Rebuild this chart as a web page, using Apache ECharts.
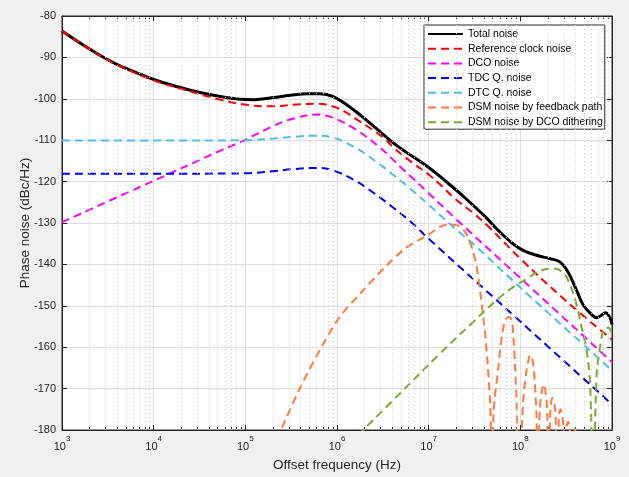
<!DOCTYPE html>
<html><head><meta charset="utf-8">
<script src="https://cdn.jsdelivr.net/npm/echarts@6/dist/echarts.min.js"></script>
<style>html,body{margin:0;padding:0;background:#f0f0f0;}#c{width:629px;height:477px;}</style>
</head><body><div id="c"></div>
<script>
// ---- data (frequency in Hz, phase noise in dBc/Hz) ----
const seriesNames = ['Total noise','Reference clock noise','DCO noise','TDC Q. noise','DTC Q. noise','DSM noise by feedback path','DSM noise by DCO dithering'];

const totalF  = [1e3,1.94e3,2.95e3,4.47e3,1.02e4,2.4e4,5.5e4,8.7e4,1.26e5,2e5,3.3e5,4.7e5,6.5e5,9.1e5,1.5e6,2.5e6,4.5e6,1e7,1.57e7,2.4e7,4.1e7,6e7,8.3e7,1.07e8,1.5e8,2.1e8,2.7e8,3.3e8,4.1e8,4.85e8,6e8,6.8e8,7.5e8,8.5e8,9.5e8,1e9];
const totalDb = [-83.6,-87.8,-90.2,-92.2,-95.4,-97.8,-99.5,-100.1,-100.2,-99.7,-99.1,-98.8,-98.8,-99.5,-102.6,-106.6,-111.3,-116.6,-120.1,-123.6,-128.4,-132.2,-135.0,-136.6,-137.8,-138.6,-139.4,-141.8,-146.2,-149.8,-152.1,-152.9,-152.4,-151.7,-152.9,-154.5];

const refF  = [1e3,1.94e3,2.95e3,4.47e3,1.02e4,2.4e4,5.5e4,1.07e5,2e5,4e5,6e5,1e6,1.62e6,3.16e6,4.29e6,7.08e6,1e7,1.38e7,1.93e7,3.19e7,4.46e7,1e8,3e8,1e9];
const refDb = [-83.6,-87.8,-90.2,-92.3,-95.6,-98.1,-100.3,-101.5,-101.8,-101.3,-101.2,-102.2,-104.9,-109.3,-112.1,-115.9,-118.3,-121.0,-124.1,-127.9,-130.8,-138.6,-148.4,-158.2];

const dcoF  = [1e3,1e4,5.5e4,1e5,2e5,3.3e5,6e5,9.1e5,1.62e6,2.95e6,5e6,1e7,2e7,1e8,1e9];
const dcoDb = [-129.8,-119.8,-112.4,-109.9,-106.6,-104.8,-103.8,-104.6,-107.5,-111.8,-116.6,-122.8,-129.1,-143.3,-163.6];

const tdcF  = [1e3,1e4,1e5,2e5,3.3e5,6e5,9.1e5,1.62e6,2.5e6,4.29e6,7.08e6,1e7,1e8,1e9];
const tdcDb = [-118.1,-118.1,-118.0,-117.5,-117.0,-116.7,-117.3,-119.9,-122.7,-126.6,-130.6,-133.8,-153.8,-173.8];

const dtcF  = [1e3,1e4,1e5,2e5,3.3e5,6e5,9.1e5,1.62e6,2.95e6,4.29e6,5.7e6,1e7,1.93e7,3.19e7,1e8,1e9];
const dtcDb = [-110.1,-110.1,-110.0,-109.6,-109.2,-108.9,-109.4,-111.9,-115.9,-118.7,-120.9,-125.6,-131.3,-135.4,-145.6,-165.6];

const dsmFbF  = [2.2e5,3.94e5,6.8e5,1.07e6,1.85e6,3.47e6,5.74e6,9.5e6,1.57e7,2.08e7,2.55e7,2.96e7,3.36e7,3.71e7,4.1e7,4.43e7,4.71e7,4.95e7,
  5.08e7,5.77e7,6.27e7,6.82e7,7.4e7,8.05e7,8.4e7,8.76e7,9.1e7,9.5e7,
  1.07e8,1.17e8,1.25e8,1.29e8,1.38e8,1.44e8,1.5e8,1.53e8,
  1.63e8,1.72e8,1.81e8,1.9e8,1.97e8,2.02e8,
  2.12e8,2.23e8,2.35e8,2.44e8,2.5e8,
  2.63e8,2.73e8,2.87e8,2.98e8,3.05e8,
  3.21e8,3.33e8,3.47e8,3.55e8,
  3.73e8,3.87e8,4.03e8,4.13e8];
const dsmFbDb = [-182.3,-169.9,-159.9,-152.7,-146.7,-140.3,-135.9,-133.1,-130.4,-130.6,-132.5,-136,-141,-148,-156,-165,-175,-200,
  -176.6,-164.7,-157.5,-153.5,-152.7,-153.5,-157.5,-164.7,-173.5,-200,
  -173.5,-165.5,-162.3,-161.9,-163.9,-168.7,-176.6,-200,
  -175,-170.5,-169,-171.5,-176,-200,
  -176,-172.3,-173.5,-178,-200,
  -177,-175,-176.5,-181,-200,
  -179,-178,-180,-200,
  -180.5,-179.5,-181,-200];

const dsmDcoF  = [1.7e6,4.85e6,1.32e7,3.06e7,5.73e7,8.35e7,1.17e8,1.63e8,2.28e8,2.93e8,3.47e8,4.13e8,4.69e8,5.31e8,5.8e8,6.26e8,6.75e8,7.4e8,8.3e8,9.2e8,1e9];
const dsmDcoDb = [-181.2,-171.2,-161.6,-153.9,-148.3,-145.5,-143.5,-141.6,-141.0,-142.0,-144.8,-150,-155.5,-161,-170,-200,-168,-160,-155.5,-155.3,-157];

const xTickExponents = [3,4,5,6,7,8,9];
const yTicks = [-180,-170,-160,-150,-140,-130,-120,-110,-100,-90,-80];

// ---- chart ----
const FONT = '"Liberation Sans", Arial, Helvetica, sans-serif';
const AX = '#262626';
const zip = (f, d) => f.map((v, i) => [v, d[i]]);
const minorVals = [];
xTickExponents.slice(0, -1).forEach(e => { for (let k = 2; k <= 9; k++) minorVals.push(k * Math.pow(10, e)); });

const xBase = { type: 'log', logBase: 10, min: Math.pow(10, xTickExponents[0]), max: Math.pow(10, xTickExponents[xTickExponents.length-1]), gridIndex: 0 };
const chart = echarts.init(document.getElementById('c'), null, { renderer: 'canvas' });

const lineSeries = (name, f, d, color, width, type, smooth) => ({
  name, type: 'line', xAxisIndex: 0, yAxisIndex: 0, data: zip(f, d),
  showSymbol: false, symbol: 'none', clip: true, smooth: smooth,
  lineStyle: { color, width, type }, itemStyle: { color }, emphasis: { disabled: true }, z: 3
});
const DASH = [8, 5];

chart.setOption({
  animation: false,
  backgroundColor: '#f0f0f0',
  textStyle: { fontFamily: FONT },
  grid: { left: 62, top: 16, width: 550, height: 418, show: true, backgroundColor: '#ffffff', borderColor: AX, borderWidth: 1 },
  xAxis: [
    Object.assign({}, xBase, {
      position: 'bottom',
      axisLine: { show: true, onZero: false, lineStyle: { color: AX, width: 1 } },
      axisTick: { show: true, inside: true, length: 5, lineStyle: { color: AX } },
      axisLabel: { margin: 5, color: AX, fontFamily: FONT,
        formatter: v => '{b|10}{s|' + Math.round(Math.log10(v)) + '}',
        rich: { b: { fontSize: 11, color: AX, fontFamily: FONT, verticalAlign: 'bottom', lineHeight: 17 },
                s: { fontSize: 8, color: AX, fontFamily: FONT, verticalAlign: 'top', lineHeight: 11 } } },
      splitLine: { show: true, lineStyle: { color: '#dfdfdf', width: 1 } },
      name: 'Offset frequency (Hz)', nameLocation: 'middle', nameGap: 28, nameMoveOverlap: false,
      nameTextStyle: { fontSize: 13.5, color: AX, fontFamily: FONT }
    }),
    Object.assign({}, xBase, {
      position: 'top',
      axisLine: { show: true, onZero: false, lineStyle: { color: AX, width: 1 } },
      axisTick: { show: true, inside: true, length: 5, lineStyle: { color: AX } },
      axisLabel: { show: false }, splitLine: { show: false }
    }),
    Object.assign({}, xBase, {
      position: 'bottom',
      axisLine: { show: false, onZero: false },
      axisTick: { show: true, inside: true, length: 3, customValues: minorVals, lineStyle: { color: AX } },
      axisLabel: { show: false }, splitLine: { show: false }
    }),
    Object.assign({}, xBase, {
      position: 'top',
      axisLine: { show: false, onZero: false },
      axisTick: { show: true, inside: true, length: 3, customValues: minorVals, lineStyle: { color: AX } },
      axisLabel: { show: false }, splitLine: { show: false }
    })
  ],
  yAxis: [
    {
      type: 'value', min: yTicks[0], max: yTicks[yTicks.length-1], interval: 10, position: 'left',
      axisLine: { show: true, onZero: false, lineStyle: { color: AX, width: 1 } },
      axisTick: { show: true, inside: true, length: 5, lineStyle: { color: AX } },
      axisLabel: { margin: 6, fontSize: 11, color: AX, fontFamily: FONT },
      splitLine: { show: true, lineStyle: { color: '#dfdfdf', width: 1 } },
      name: 'Phase noise (dBc/Hz)', nameLocation: 'middle', nameGap: 30, nameRotate: 90, nameMoveOverlap: false,
      nameTextStyle: { fontSize: 13.5, color: AX, fontFamily: FONT }
    },
    {
      type: 'value', min: yTicks[0], max: yTicks[yTicks.length-1], interval: 10, position: 'right',
      axisLine: { show: true, onZero: false, lineStyle: { color: AX, width: 1 } },
      axisTick: { show: true, inside: true, length: 5, lineStyle: { color: AX } },
      axisLabel: { show: false }, splitLine: { show: false }
    }
  ],
  legend: {
    show: true, orient: 'vertical', left: 424, top: 25, selectedMode: false,
    backgroundColor: '#ffffff', borderColor: AX, borderWidth: 1, borderRadius: 0,
    padding: [3, 2, 1, 3], itemWidth: 35, itemHeight: 12, itemGap: 2.7,
    itemStyle: { color: 'rgba(0,0,0,0)', borderWidth: 0, opacity: 0 },
    textStyle: { fontSize: 10.5, color: '#000', fontFamily: FONT, lineHeight: 12 },
    data: seriesNames
  },
  series: [
    { name: 'minor-grid', type: 'line', data: [], xAxisIndex: 0, yAxisIndex: 0, z: 1, silent: true,
      markLine: { silent: true, symbol: ['none', 'none'], animation: false, label: { show: false },
        lineStyle: { color: '#cccccc', width: 1, type: [1, 3] },
        emphasis: { disabled: true },
        data: minorVals.map(v => ({ xAxis: v })) } },
    lineSeries(seriesNames[0], totalF, totalDb, '#000000', 3, 'solid', 0.4),
    lineSeries(seriesNames[1], refF, refDb, '#ff0000', 2, DASH, 0.4),
    lineSeries(seriesNames[2], dcoF, dcoDb, '#ff00ff', 2, DASH, 0.4),
    lineSeries(seriesNames[3], tdcF, tdcDb, '#0000ff', 2, DASH, 0.4),
    lineSeries(seriesNames[4], dtcF, dtcDb, '#4dbeee', 2, DASH, 0.4),
    lineSeries(seriesNames[5], dsmFbF, dsmFbDb, '#ff7a3d', 2, DASH, 0.3),
    lineSeries(seriesNames[6], dsmDcoF, dsmDcoDb, '#77ac30', 2, DASH, 0.4)
  ]
});
</script></body></html>
